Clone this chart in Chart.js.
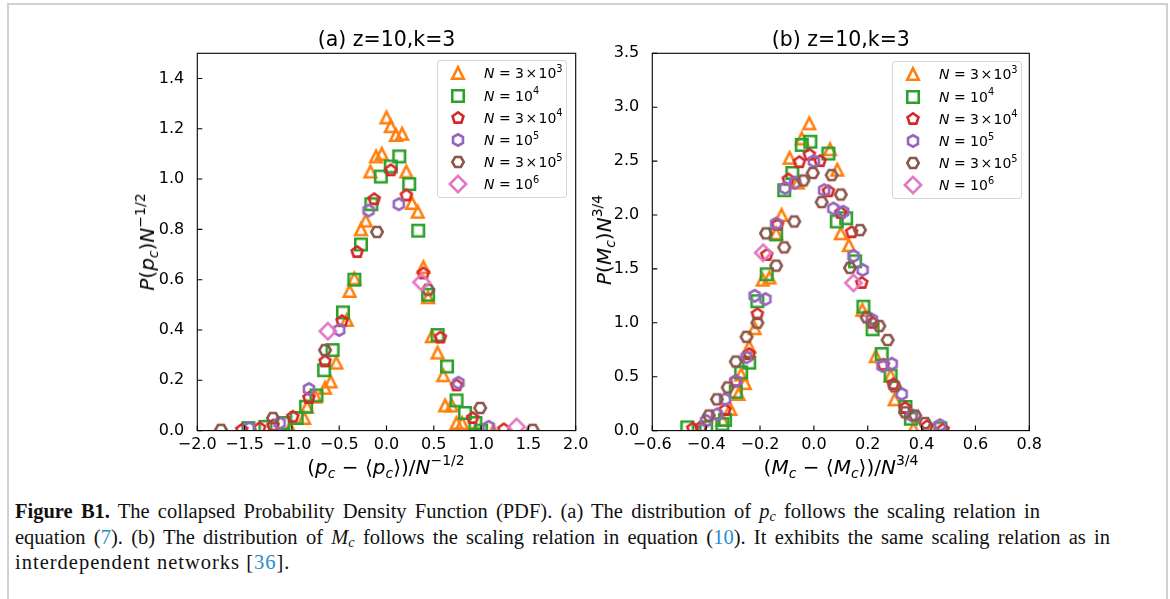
<!DOCTYPE html>
<html>
<head>
<meta charset="utf-8">
<script src="https://cdn.jsdelivr.net/npm/chart.js@4.4.1/dist/chart.umd.min.js"></script>
<style>
  html, body { margin: 0; padding: 0; background: #fff; }
  body { width: 1170px; height: 599px; position: relative; overflow: hidden; font-family: "DejaVu Sans", sans-serif; }
  .frame { position: absolute; left: 7px; top: 3px; width: 1161px; height: 640px; border: 2px solid #d0d0d0; box-sizing: border-box; }
  canvas { position: absolute; top: 0; }
  #chartA { left: 130px; }
  #chartB { left: 585px; }
  .lab { position: absolute; font-size: 20px; line-height: 1; white-space: nowrap; color: #000; transform: translate(-50%, -50%); }
  .lab.rot { transform: translate(-50%, -50%) rotate(-90deg); }
  .sp { font-size: 70%; position: relative; top: -0.65em; }
  .sb { font-size: 70%; position: relative; top: 0.3em; }
  .legend { position: absolute; width: 130px; height: 138px; border: 1px solid #d6d6d6; border-radius: 3px; background: rgba(255,255,255,0.8); box-sizing: border-box; }
  .legend .row { position: absolute; left: 0; height: 22px; width: 128px; }
  .legend img { position: absolute; left: 8px; top: -1px; }
  .legend span.t { position: absolute; left: 46px; top: 3px; font-size: 14px; line-height: 16px; white-space: nowrap; }
  .cap { position: absolute; left: 15px; top: 499px; font-family: "Liberation Serif", serif; font-size: 20.5px; line-height: 25.5px; color: #111; }
  .cap .ln { white-space: nowrap; }
  .cap .j { text-align: justify; text-align-last: justify; white-space: normal; }
  .cap a { color: #2a8dcc; text-decoration: none; }
  .cap sub { font-size: 70%; vertical-align: -0.2em; line-height: 0; }
</style>
</head>
<body>
<div class="frame"></div>
<canvas id="chartA" width="470" height="490"></canvas>
<canvas id="chartB" width="475" height="490"></canvas>

<div class="lab rot" style="left:147px; top:242px;"><i>P</i>(<i>p</i><span class="sb"><i>c</i></span>)<i>N</i><span class="sp">−1/2</span></div>
<div class="lab" style="left:386px; top:467px;">(<i>p</i><span class="sb"><i>c</i></span> − ⟨<i>p</i><span class="sb"><i>c</i></span>⟩)/<i>N</i><span class="sp">−1/2</span></div>
<div class="lab rot" style="left:604px; top:240px;"><i>P</i>(<i>M</i><span class="sb"><i>c</i></span>)<i>N</i><span class="sp">3/4</span></div>
<div class="lab" style="left:841px; top:467px;">(<i>M</i><span class="sb"><i>c</i></span> − ⟨<i>M</i><span class="sb"><i>c</i></span>⟩)/<i>N</i><span class="sp">3/4</span></div>

<div class="legend" id="legA" style="left:437px; top:60px;"></div>
<div class="legend" id="legB" style="left:892px; top:61px;"></div>

<div class="cap">
  <div class="ln j" style="width:1025px;"><b>Figure B1.</b> The collapsed Probability Density Function (PDF). (a) The distribution of <i>p<sub>c</sub></i> follows the scaling relation in</div>
  <div class="ln j" style="width:1095px;">equation (<a>7</a>). (b) The distribution of <i>M<sub>c</sub></i> follows the scaling relation in equation (<a>10</a>). It exhibits the same scaling relation as in</div>
  <div class="ln" style="letter-spacing:1px;">interdependent networks [<a>36</a>].</div>
</div>

<script>
// series labels (shown as N = ...)
const sizeLabels = ['3&#8202;×&#8202;10<span class="sp">3</span>', '10<span class="sp">4</span>', '3&#8202;×&#8202;10<span class="sp">4</span>',
                    '10<span class="sp">5</span>', '3&#8202;×&#8202;10<span class="sp">5</span>', '10<span class="sp">6</span>'];
const sizeNames = ['N = 3×10^3', 'N = 10^4', 'N = 3×10^4', 'N = 10^5', 'N = 3×10^5', 'N = 10^6'];
const colors = ['#ff7f0e', '#2ca02c', '#d62728', '#9467bd', '#8c564b', '#e377c2'];
const shapes = ['triangle', 'square', 'pentagon', 'hexagon', 'hexagon2', 'diamond'];

// (a) distribution of p_c
const aN3e3 = [[-1.02,0.01],[-0.87,0.05],[-0.84,0.095],[-0.75,0.135],[-0.65,0.17],[-0.59,0.195],[-0.53,0.27],[-0.42,0.44],
  [-0.39,0.555],[-0.34,0.605],[-0.27,0.80],[-0.22,0.835],[-0.17,1.03],[-0.11,1.09],[-0.05,1.10],[0.0,1.245],[0.045,1.21],
  [0.10,1.175],[0.165,1.18],[0.21,1.03],[0.27,0.905],[0.33,0.87],[0.39,0.65],[0.44,0.53],[0.48,0.375],[0.54,0.31],
  [0.60,0.22],[0.62,0.10],[0.69,0.10],[0.74,0.03],[0.80,0.03],[0.94,0.0],[1.13,0.0]];
const aN1e4 = [[-1.46,0.01],[-1.28,0.015],[-1.09,0.03],[-0.95,0.05],[-0.85,0.095],[-0.74,0.14],[-0.66,0.24],[-0.57,0.32],
  [-0.46,0.47],[-0.34,0.60],[-0.27,0.74],[-0.16,0.90],[-0.06,1.01],[0.045,1.05],[0.135,1.09],[0.24,0.98],[0.335,0.795],
  [0.44,0.54],[0.54,0.38],[0.64,0.255],[0.74,0.12],[0.83,0.07],[0.94,0.03],[1.0,0.0]];
const aN3e4 = [[-1.53,0.003],[-1.34,0.01],[-1.2,0.02],[-0.99,0.055],[-0.82,0.13],[-0.65,0.275],[-0.47,0.435],[-0.31,0.71],
  [-0.13,0.92],[0.045,1.035],[0.21,0.935],[0.39,0.625],[0.57,0.37],[0.74,0.18],[0.91,0.05],[1.24,0.005]];
const aN1e5 = [[-1.45,0.01],[-1.13,0.03],[-0.82,0.165],[-0.50,0.40],[-0.19,0.875],[0.13,0.90],[0.76,0.19],[1.08,0.015]];
const aN3e5 = [[-1.75,0.003],[-1.20,0.05],[-0.65,0.32],[-0.10,0.79],[0.44,0.56],[0.99,0.09],[1.545,0.003]];
const aN1e6 = [[-0.62,0.395],[0.37,0.59],[1.375,0.015]];
const aXTicks = [-2.0, -1.5, -1.0, -0.5, 0.0, 0.5, 1.0, 1.5, 2.0];
const aYTicks = [0.0, 0.2, 0.4, 0.6, 0.8, 1.0, 1.2, 1.4];

// (b) distribution of M_c
const bN3e3 = [[-0.34,0.10],[-0.31,0.20],[-0.28,0.34],[-0.256,0.44],[-0.27,0.52],[-0.24,0.78],[-0.22,0.95],[-0.19,1.40],
  [-0.165,1.42],[-0.14,1.83],[-0.12,2.00],[-0.09,2.53],[-0.06,2.30],[-0.045,2.71],[-0.017,2.85],[0.06,2.61],[0.087,2.42],
  [0.10,1.83],[0.13,1.72],[0.18,1.12],[0.23,0.69],[0.285,0.51],[0.30,0.29],[0.37,0.02]];
const bN1e4 = [[-0.47,0.03],[-0.40,0.03],[-0.34,0.06],[-0.33,0.10],[-0.29,0.36],[-0.27,0.54],[-0.24,0.63],[-0.21,1.20],
  [-0.175,1.45],[-0.14,1.82],[-0.11,2.23],[-0.08,2.39],[-0.045,2.65],[-0.013,2.68],[0.054,2.57],[0.085,1.94],[0.12,1.97],
  [0.153,1.57],[0.184,1.15],[0.218,0.94],[0.252,0.71],[0.285,0.51],[0.34,0.22],[0.36,0.11],[0.47,0.02]];
const bN3e4 = [[-0.45,0.02],[-0.42,0.03],[-0.33,0.19],[-0.29,0.46],[-0.24,0.71],[-0.21,1.08],[-0.175,1.63],[-0.135,1.91],
  [-0.095,2.33],[-0.054,2.49],[-0.017,2.56],[0.023,2.50],[0.054,2.22],[0.10,2.02],[0.14,1.84],[0.178,1.37],[0.218,1.0],
  [0.258,0.61],[0.295,0.43],[0.339,0.21],[0.42,0.04],[0.48,0.01]];
const bN1e5 = [[-0.40,0.09],[-0.36,0.15],[-0.33,0.29],[-0.29,0.46],[-0.25,0.68],[-0.22,1.25],[-0.18,1.22],[-0.14,1.92],
  [-0.107,2.25],[-0.07,2.30],[0.0,2.50],[0.038,2.23],[0.072,2.06],[0.109,2.03],[0.147,1.62],[0.181,1.49],[0.215,1.03],
  [0.255,0.60],[0.289,0.62],[0.326,0.34],[0.364,0.14],[0.468,0.05]];
const bN3e5 = [[-0.39,0.14],[-0.36,0.29],[-0.32,0.40],[-0.29,0.64],[-0.25,0.87],[-0.21,1.0],[-0.178,1.83],[-0.14,1.53],
  [-0.11,1.70],[-0.073,1.94],[-0.039,2.32],[-0.004,2.39],[0.029,2.12],[0.066,2.37],[0.10,2.19],[0.134,1.51],[0.171,1.86],
  [0.196,1.05],[0.243,0.97],[0.274,0.84],[0.30,0.41],[0.339,0.17],[0.376,0.14],[0.413,0.07]];
const bN1e6 = [[-0.188,1.65],[0.147,1.37]];
const bXTicks = [-0.6, -0.4, -0.2, 0.0, 0.2, 0.4, 0.6, 0.8];
const bYTicks = [0.0, 0.5, 1.0, 1.5, 2.0, 2.5, 3.0, 3.5];

Chart.defaults.font.family = 'DejaVu Sans';

// open markers like matplotlib's ^ s p h H D
const markerSize = 11.5;
function makeMarker(shape, color) {
  const s = 24;
  const c = document.createElement('canvas');
  c.width = s; c.height = s;
  const g = c.getContext('2d');
  g.translate(s / 2, s / 2);
  g.strokeStyle = color;
  g.lineWidth = 2.6;
  g.lineJoin = 'miter';
  const r = markerSize / 2;
  g.beginPath();
  if (shape === 'triangle') {
    g.moveTo(0, -r); g.lineTo(r, r); g.lineTo(-r, r);
  } else if (shape === 'square') {
    g.rect(-r, -r, 2 * r, 2 * r);
  } else if (shape === 'diamond') {
    const d = r * Math.SQRT2;
    g.moveTo(0, -d); g.lineTo(d, 0); g.lineTo(0, d); g.lineTo(-d, 0);
  } else {
    const n = shape === 'pentagon' ? 5 : 6;
    const rot = shape === 'hexagon2' ? Math.PI / 6 : 0;
    for (let i = 0; i < n; i++) {
      const ang = -Math.PI / 2 + rot + i * 2 * Math.PI / n;
      if (i === 0) g.moveTo(r * Math.cos(ang), r * Math.sin(ang));
      else g.lineTo(r * Math.cos(ang), r * Math.sin(ang));
    }
  }
  g.closePath();
  g.stroke();
  return c;
}
const markers = shapes.map((s, i) => makeMarker(s, colors[i]));

const fmt = v => (v < 0 ? '−' : '') + Math.abs(v).toFixed(1);

// box around the axes and inward ticks on left/bottom
const axesFrame = {
  id: 'axesFrame',
  afterDatasetsDraw(chart) {
    const { ctx, chartArea: a, scales } = chart;
    ctx.save();
    ctx.strokeStyle = '#000';
    ctx.lineWidth = 1.1;
    ctx.strokeRect(a.left, a.top, a.right - a.left, a.bottom - a.top);
    ctx.beginPath();
    scales.x.ticks.forEach(t => {
      const p = scales.x.getPixelForValue(t.value);
      ctx.moveTo(p, a.bottom); ctx.lineTo(p, a.bottom - 5);
    });
    scales.y.ticks.forEach(t => {
      const p = scales.y.getPixelForValue(t.value);
      ctx.moveTo(a.left, p); ctx.lineTo(a.left + 5, p);
    });
    ctx.stroke();
    ctx.restore();
  }
};

function makeChart(id, title, series, xTicks, yTicks, xr, yr, rightPad) {
  return new Chart(document.getElementById(id), {
    type: 'scatter',
    data: {
      datasets: series.map((d, i) => ({
        label: sizeNames[i],
        data: d,
        pointStyle: markers[i],
        pointRadius: 6,
        order: series.length - i,
        clip: 0
      }))
    },
    options: {
      responsive: false,
      animation: false,
      events: [],
      devicePixelRatio: 1,
      layout: { padding: { left: 0, right: rightPad, top: 0, bottom: 0 } },
      plugins: {
        legend: { display: false },
        tooltip: { enabled: false },
        title: {
          display: true, text: title, fullSize: false, color: '#000',
          font: { size: 20.5, weight: 'normal' },
          padding: { top: 28.7, bottom: 0 }
        }
      },
      scales: {
        x: {
          type: 'linear', min: xr[0], max: xr[1],
          grid: { display: false }, border: { display: false },
          afterBuildTicks: s => { s.ticks = xTicks.map(v => ({ value: v })); },
          afterFit: s => { s.height = 59.4; },
          ticks: { autoSkip: false, maxRotation: 0, padding: -3, color: '#000', font: { size: 16 }, callback: fmt }
        },
        y: {
          type: 'linear', min: yr[0], max: yr[1],
          grid: { display: false }, border: { display: false },
          afterBuildTicks: s => { s.ticks = yTicks.map(v => ({ value: v })); },
          afterFit: s => { s.width = 67.3; },
          ticks: { autoSkip: false, padding: 5, color: '#000', font: { size: 16 }, callback: fmt }
        }
      }
    },
    plugins: [axesFrame]
  });
}

makeChart('chartA', '(a) z=10,k=3', [aN3e3, aN1e4, aN3e4, aN1e5, aN3e5, aN1e6], aXTicks, aYTicks, [-2, 2], [0, 1.5], 24.3);
makeChart('chartB', '(b) z=10,k=3', [bN3e3, bN1e4, bN3e4, bN1e5, bN3e5, bN1e6], bXTicks, bYTicks, [-0.6, 0.8], [0, 3.5], 30.7);

// legends
function fillLegend(id) {
  const box = document.getElementById(id);
  sizeLabels.forEach((lab, i) => {
    const row = document.createElement('div');
    row.className = 'row';
    row.style.top = (12.3 + 22.2 * i - 11) + 'px';
    const img = document.createElement('img');
    img.src = markers[i].toDataURL();
    row.appendChild(img);
    const t = document.createElement('span');
    t.className = 't';
    t.innerHTML = '<i>N</i> = ' + lab;
    row.appendChild(t);
    box.appendChild(row);
  });
}
fillLegend('legA');
fillLegend('legB');
</script>
</body>
</html>
